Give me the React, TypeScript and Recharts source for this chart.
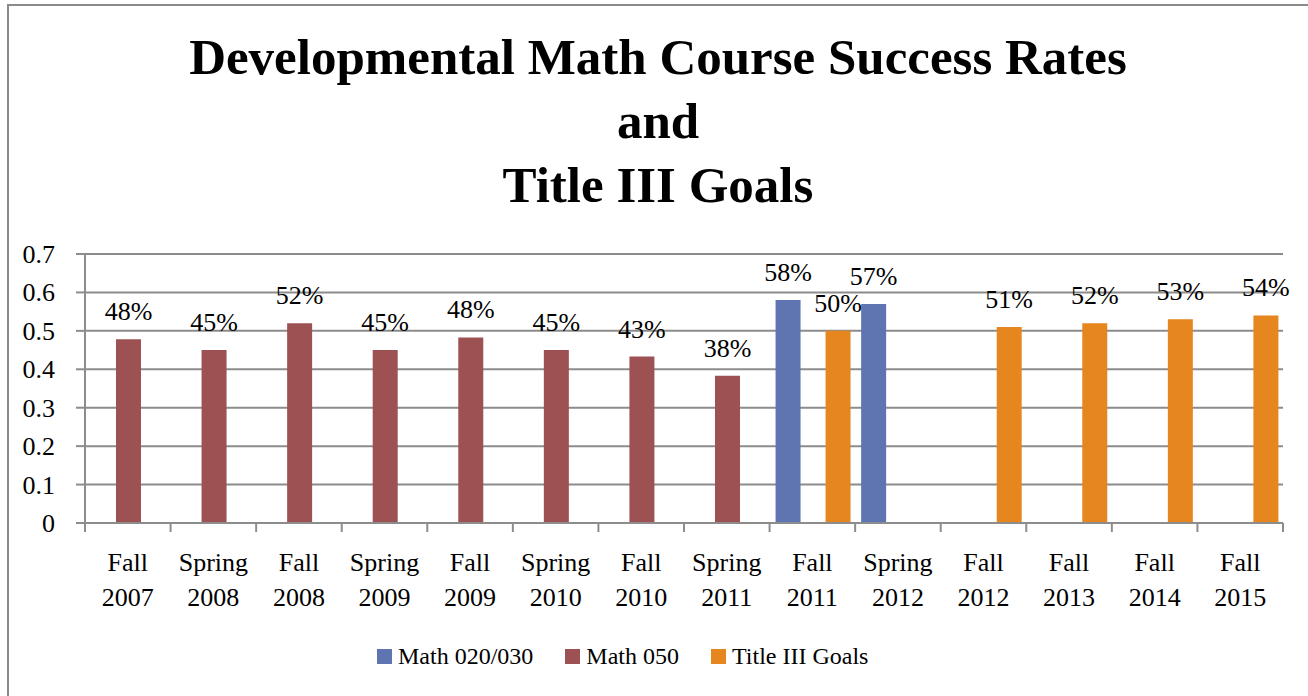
import React from 'react';
import { BarChart, Bar, XAxis, YAxis, CartesianGrid, LabelList, Legend } from 'recharts';

const categories = [
  'Fall 2007', 'Spring 2008', 'Fall 2008', 'Spring 2009', 'Fall 2009', 'Spring 2010', 'Fall 2010',
  'Spring 2011', 'Fall 2011', 'Spring 2012', 'Fall 2012', 'Fall 2013', 'Fall 2014', 'Fall 2015',
];
const math020030: (number | null)[] = [null, null, null, null, null, null, null, null, 0.58, 0.57, null, null, null, null];
const math050: (number | null)[] = [0.478, 0.45, 0.52, 0.45, 0.483, 0.45, 0.433, 0.383, null, null, null, null, null, null];
const titleIII: (number | null)[] = [null, null, null, null, null, null, null, null, 0.5, null, 0.51, 0.52, 0.53, 0.54];
const yTicks = [0, 0.1, 0.2, 0.3, 0.4, 0.5, 0.6, 0.7];
const seriesNames = ['Math 020/030', 'Math 050', 'Title III Goals'];
const seriesKeys = ['m1', 'm2', 'm3'];
const seriesColors = ['#5F75B1', '#9D5153', '#E6861F'];
const titleLines = ['Developmental Math Course Success Rates', 'and', 'Title III Goals'];

const data = categories.map((c, i) => ({ category: c, m1: math020030[i], m2: math050[i], m3: titleIII[i] }));

const FONT = '"Liberation Serif", "Times New Roman", serif';
const GRID = '#8C8C8C';
const textStyle = { fontFamily: FONT, fontSize: 26, fill: '#000' };

const XTick = (props: any) => {
  const { x, y, payload, index, visibleTicksCount, width } = props;
  const half = payload && typeof payload.offset === 'number' && payload.offset > 0
    ? payload.offset
    : (Number(width) / Number(visibleTicksCount)) / 2;
  const parts = String(payload.value).split(' ');
  return (
    <g>
      <line x1={x - half} x2={x - half} y1={y} y2={y + 9} stroke={GRID} strokeWidth={2} />
      {index === visibleTicksCount - 1 && (
        <line x1={x + half} x2={x + half} y1={y} y2={y + 9} stroke={GRID} strokeWidth={2} />
      )}
      <text x={x} y={y + 48} textAnchor="middle" style={textStyle}>{parts[0]}</text>
      <text x={x} y={y + 83} textAnchor="middle" style={textStyle}>{parts[1]}</text>
    </g>
  );
};

const YTick = (props: any) => {
  const { x, y, payload } = props;
  const v = Number(payload.value);
  return (
    <text x={x} y={y} dy={9} textAnchor="end" style={textStyle}>
      {v === 0 ? '0' : v.toFixed(1)}
    </text>
  );
};

const renderLabel = (props: any) => {
  const { x, y, width, value } = props;
  if (value == null || value === '') return null;
  return (
    <text x={Number(x) + Number(width) / 2} y={Number(y) - 19} textAnchor="middle" style={textStyle}>
      {`${Math.round(Number(value) * 100)}%`}
    </text>
  );
};

const renderLegend = () => (
  <div style={{ display: 'flex', alignItems: 'center', fontFamily: FONT, fontSize: 24, lineHeight: '30px', color: '#000' }}>
    {seriesNames.map((n, i) => (
      <div key={n} style={{ display: 'flex', alignItems: 'center', marginRight: i < seriesNames.length - 1 ? 32 : 0 }}>
        <span style={{ display: 'inline-block', width: 15, height: 15, background: seriesColors[i], marginRight: 6 }} />
        <span>{n}</span>
      </div>
    ))}
  </div>
);

export default function App() {
  return (
    <div style={{ position: 'absolute', left: 0, top: 0, width: 1308, height: 696, background: '#fff', overflow: 'hidden', fontFamily: FONT }}>
      <div style={{ position: 'absolute', left: 7, top: 4, width: 1320, height: 720, border: '2px solid #8a8a8a', boxSizing: 'border-box' }} />
      <div style={{ position: 'absolute', left: 158, top: 25, width: 1000, textAlign: 'center', fontFamily: FONT, fontWeight: 'bold', fontSize: 51, lineHeight: '64px', color: '#000' }}>
        {titleLines.map((t) => (<div key={t}>{t}</div>))}
      </div>
      <div style={{ position: 'absolute', left: 0, top: 0 }}>
        <BarChart
          width={1308}
          height={696}
          data={data}
          margin={{ top: 254, right: 25, bottom: 0, left: 0 }}
          barCategoryGap="7%"
          barGap={0}
          style={{ fontFamily: FONT }}
        >
          <CartesianGrid vertical={false} stroke={GRID} strokeWidth={2} />
          <XAxis
            dataKey="category"
            height={173}
            tickLine={false}
            tickSize={0}
            tickMargin={0}
            interval={0}
            axisLine={{ stroke: GRID, strokeWidth: 2 }}
            tick={<XTick />}
          />
          <YAxis
            width={85}
            domain={[0, 0.7]}
            ticks={yTicks}
            interval={0}
            tickSize={9}
            tickMargin={21}
            tickLine={{ stroke: GRID, strokeWidth: 2 }}
            axisLine={{ stroke: GRID, strokeWidth: 2 }}
            tick={<YTick />}
          />
          {seriesKeys.map((k, i) => (
            <Bar key={k} dataKey={k} name={seriesNames[i]} fill={seriesColors[i]} isAnimationActive={false}>
              <LabelList dataKey={k} content={renderLabel} />
            </Bar>
          ))}
          <Legend
            layout="horizontal"
            verticalAlign="middle"
            align="center"
            content={renderLegend}
            wrapperStyle={{ top: 641, left: 377, width: 'auto', height: 30 }}
          />
        </BarChart>
      </div>
    </div>
  );
}
